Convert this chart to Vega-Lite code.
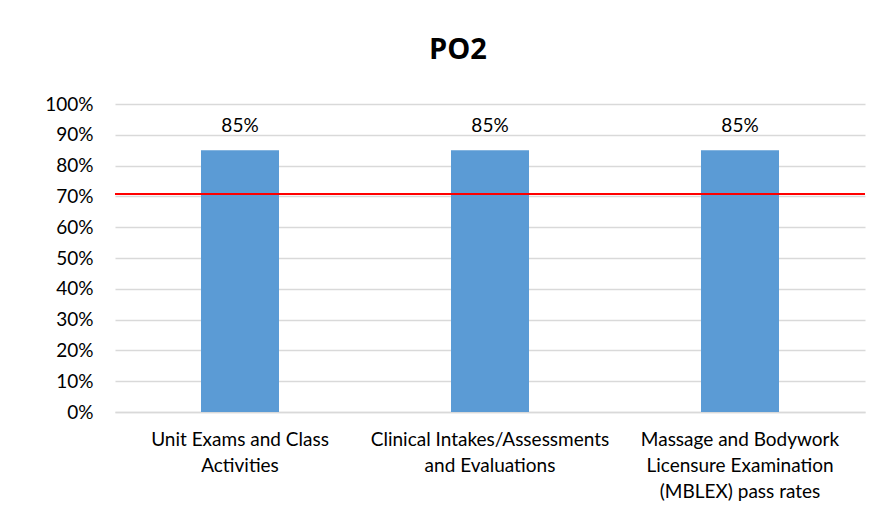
{
  "$schema": "https://vega.github.io/schema/vega-lite/v6.json",
  "width": 750,
  "height": 308,
  "autosize": "none",
  "padding": {"left": 115, "top": 104, "right": 21, "bottom": 106},
  "background": "white",
  "title": {
    "text": "PO2",
    "font": "Open Sans",
    "fontSize": 29,
    "fontWeight": "bold",
    "color": "#000000",
    "anchor": "middle",
    "dx": -32,
    "offset": 30
  },
  "data": {
    "values": [
      {"measure": "Unit Exams and Class|Activities", "value": 0.85},
      {"measure": "Clinical Intakes/Assessments|and Evaluations", "value": 0.85},
      {"measure": "Massage and Bodywork|Licensure Examination|(MBLEX) pass rates", "value": 0.85}
    ]
  },
  "config": {
    "view": {"stroke": null},
    "font": "Lato"
  },
  "encoding": {
    "x": {
      "field": "measure",
      "type": "nominal",
      "sort": null,
      "scale": {"paddingInner": 0.688, "paddingOuter": 0.344},
      "axis": {
        "title": null,
        "labelAngle": 0,
        "labelExpr": "split(datum.label, '|')",
        "labelFont": "Lato",
        "labelFontSize": 19,
        "labelColor": "#000000",
        "labelLineHeight": 26,
        "labelPadding": 18,
        "labelLimit": 400,
        "labelOverlap": false,
        "ticks": false,
        "domainColor": "#d9d9d9",
        "domainWidth": 1.5
      }
    },
    "y": {
      "field": "value",
      "type": "quantitative",
      "scale": {"domain": [0, 1]},
      "axis": {
        "title": null,
        "format": ".0%",
        "values": [0, 0.1, 0.2, 0.3, 0.4, 0.5, 0.6, 0.7, 0.8, 0.9, 1],
        "labelFont": "Lato",
        "labelFontSize": 19,
        "labelColor": "#000000",
        "labelPadding": 22,
        "labelOverlap": false,
        "ticks": false,
        "domain": false,
        "gridColor": "#d9d9d9",
        "gridWidth": 1.5
      }
    }
  },
  "layer": [
    {
      "mark": {"type": "bar", "color": "#5b9bd5"}
    },
    {
      "mark": {"type": "text", "baseline": "bottom", "dy": -14, "font": "Lato", "fontSize": 19, "color": "#000000"},
      "encoding": {
        "text": {"field": "value", "type": "quantitative", "format": ".0%"}
      }
    },
    {
      "data": {"values": [{"target": 0.708}]},
      "mark": {"type": "rule", "color": "#ff0000", "strokeWidth": 2},
      "encoding": {
        "x": null,
        "y": {
          "field": "target",
          "type": "quantitative",
          "axis": {
            "title": null,
            "format": ".0%",
            "values": [0, 0.1, 0.2, 0.3, 0.4, 0.5, 0.6, 0.7, 0.8, 0.9, 1],
            "labelFont": "Lato",
            "labelFontSize": 19,
            "labelColor": "#000000",
            "labelPadding": 22,
            "labelOverlap": false,
            "ticks": false,
            "domain": false,
            "gridColor": "#d9d9d9",
            "gridWidth": 1.5
          }
        }
      }
    }
  ]
}
